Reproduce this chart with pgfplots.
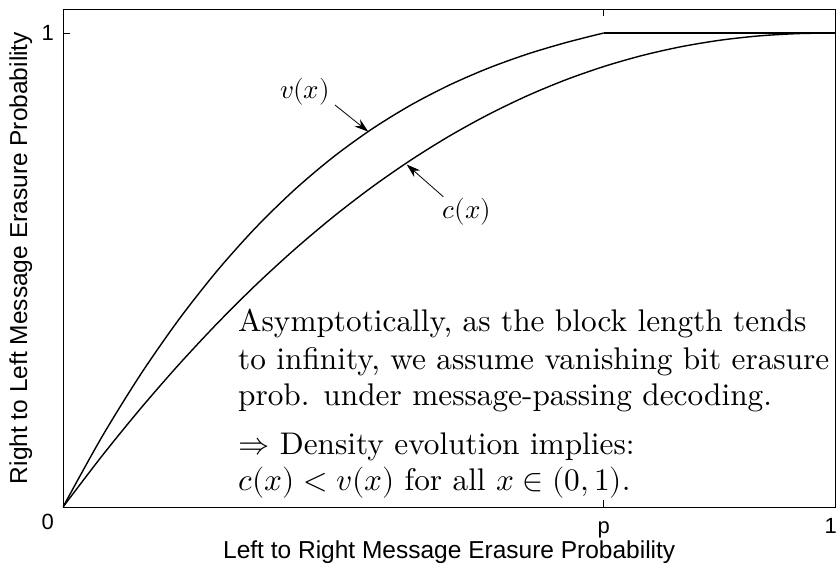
\documentclass[border=0pt]{standalone}
\usepackage{unicode-math}
\setmainfont{lmroman10-regular.otf}[BoldFont=lmroman10-bold.otf, ItalicFont=lmroman10-italic.otf]
\usepackage{pgfplots}
\pgfplotsset{compat=1.18}
\usetikzlibrary{arrows.meta}
\newfontfamily\arial{Liberation Sans}

\begin{document}
\begin{tikzpicture}
\path[use as bounding box] (0,0) rectangle (836pt,566pt);
\begin{axis}[
  at={(63pt,59pt)}, anchor=south west,
  scale only axis, width=772.5pt, height=498pt,
  xmin=0, xmax=1, ymin=0, ymax=1.0506,
  axis line style={black, line width=0.8pt},
  tick style={black, line width=0.6pt},
  major tick length=7pt,
  xtick={0,0.70}, xticklabels={{},p},
  ytick={1}, yticklabels={1},
  extra x ticks={1}, extra x tick labels={1},
  extra x tick style={xticklabel style={anchor=base east, xshift=1.5pt}},
  extra y ticks={0}, extra y tick labels={0},
  extra y tick style={yticklabel style={yshift=-15pt}},
  /pgf/number format/assume math mode=true,
  tick label style={font=\arial\fontsize{22}{26}\selectfont, inner sep=0pt},
  xticklabel style={anchor=base, yshift=-26pt},
  yticklabel style={anchor=east, xshift=-9pt},
  label style={font=\arial\fontsize{24.5}{28}\selectfont},
  xlabel={Left to Right Message Erasure Probability},
  ylabel={Right to Left Message Erasure Probability},
  xlabel style={at={(axis description cs:0.5,-0.1034)}, anchor=base},
  ylabel style={at={(axis description cs:-0.0466,0.5)}, anchor=base},
]
% v(x): rises to 1 at x = p, then stays flat
\addplot[black, line width=1.4pt, smooth] coordinates {
  (0,0) (0.05,0.1469) (0.10,0.2785) (0.15,0.3956) (0.20,0.4992)
  (0.25,0.5903) (0.30,0.6697) (0.35,0.7385) (0.40,0.7975) (0.45,0.8477)
  (0.50,0.8900) (0.55,0.9254) (0.60,0.9549) (0.65,0.9793) (0.70,1)
};
\addplot[black, line width=1.4pt] coordinates {(0.70,1) (1,1)};
% c(x): reaches 1 only at x = 1
\addplot[black, line width=1.4pt, smooth] coordinates {
  (0,0) (0.05,0.1067) (0.10,0.2069) (0.15,0.3006) (0.20,0.3879)
  (0.25,0.4690) (0.30,0.5437) (0.35,0.6124) (0.40,0.6750) (0.45,0.7316)
  (0.50,0.7824) (0.55,0.8274) (0.60,0.8668) (0.65,0.9007) (0.70,0.9292)
  (0.75,0.9526) (0.80,0.9710) (0.85,0.9846) (0.90,0.9937) (0.95,0.9986) (1,1)
};
% curve labels
\draw[-{Stealth[length=14pt,width=9pt]}, line width=0.8pt]
  (axis cs:0.3521,0.8481) -- (axis cs:0.3952,0.7918);
\node[font=\fontsize{27}{30}\selectfont] at (axis cs:0.3133,0.8762) {$v(x)$};
\draw[-{Stealth[length=14pt,width=9pt]}, line width=0.8pt]
  (axis cs:0.4923,0.6546) -- (axis cs:0.4449,0.7225);
\node[font=\fontsize{27}{30}\selectfont] at (axis cs:0.5226,0.623) {$c(x)$};
% explanatory text
\begin{scope}[every node/.style={anchor=base west, inner sep=0pt, font=\fontsize{31.3}{37}\selectfont}]
\node at (axis cs:0.2265,0.3692) {Asymptotically, as the block length tends};
\node at (axis cs:0.2265,0.2911) {to infinity, we assume vanishing bit erasure};
\node at (axis cs:0.2265,0.2131) {prob. under message-passing decoding.};
\node at (axis cs:0.2265,0.1118) {$\Rightarrow$ Density evolution implies:};
\node at (axis cs:0.2265,0.0338) {$c(x) < v(x)$ for all $x \in (0,1)$.};
\end{scope}
\end{axis}
\end{tikzpicture}
\end{document}
